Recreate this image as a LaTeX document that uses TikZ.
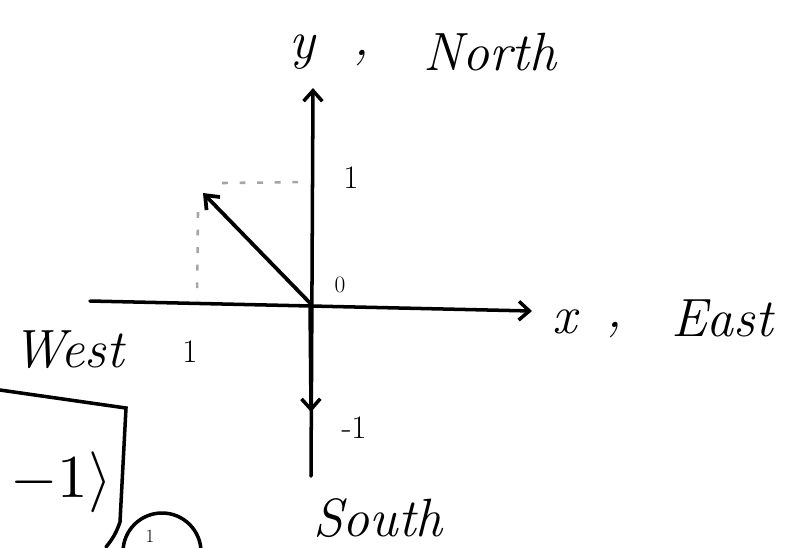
\documentclass[tikz,border=0pt]{standalone}
\usepackage{graphicx}
\usepackage{tikz}
\usetikzlibrary{positioning,arrows.meta}
\tikzset{
  axis/.style     = {draw=black, line width=3pt, line cap=round},
  axisarrow/.style= {axis, -{Straight Barb[length=9pt,width=16pt]}},
  vec/.style      = {draw=black, line width=3.2pt, line cap=round,
                     -{Straight Barb[length=10pt,width=16pt]}},
  guide/.style    = {draw=gray!70, line width=2.2pt, dash pattern=on 5pt off 10pt},
  ink/.style      = {draw=black, line width=3pt, line cap=round},
  hand/.style     = {inner sep=0pt, font=\fontsize{46}{46}\selectfont\itshape},
  tickno/.style   = {inner sep=0pt, font=\fontsize{28}{28}\selectfont},
}

\begin{document}
\begin{tikzpicture}[x=0.03cm, y=-0.03cm]
  \useasboundingbox (0,0) rectangle (793,547);
  \clip (0,0) rectangle (793,547);

  % axes
  \coordinate (O)    at (310,303);
  \coordinate (xbeg) at (90,301);
  \coordinate (xtip) at (532,311);
  \coordinate (ytip) at (313,88);
  \coordinate (ydn)  at (311,412);
  \coordinate (ybot) at (311,476);
  \draw[axisarrow] (xbeg) -- (xtip);
  \draw[axisarrow] (ybot) -- (ytip);
  \draw[axisarrow] (O) -- (ydn);

  % the vector and its guides
  \coordinate (v)  at (203,193);
  \coordinate (gh) at (222,183);
  \coordinate (gy) at (310,182);
  \coordinate (gv) at (198,212);
  \coordinate (gx) at (197,300);
  \draw[guide] (gh) -- (gy);
  \draw[guide] (gv) -- (gx);
  \draw[vec] (O) -- (v);

  % labels
  \node[hand] (ylab) at (302,52) {y};
  \node[hand] (ycomma) at (362,58) {,};
  \node[hand] (north) at (490,52) {North};
  \node[hand] (xlab) at (565,322) {x};
  \node[hand] (xcomma) at (615,330) {,};
  \node[hand] (east) at (722,318) {East};
  \node[hand] (west) at (68,350) {West};
  \node[hand] (south) at (378,518) {South};
  \node[tickno] (one) at (351,178) {1};
  \node[tickno, font=\fontsize{20}{20}\selectfont] (zero) at (340,285) {0};
  \node[tickno] (oneleft) at (190,352) {1};
  \node[tickno] (mone) at (354,428) {-1};

  % clipped ket and box at the lower left
  \node[inner sep=0pt, anchor=east] (ket)
       at (112,482) {\scalebox{5.2}{$-1\rangle$}};
  \coordinate (bx0) at (0,390);
  \coordinate (bx1) at (126,408);
  \coordinate (bx2) at (120,522);
  \coordinate (bx3) at (106,547);
  \draw[ink] (bx0) -- (bx1) -- (bx2) to[bend left=10] (bx3);
  \coordinate (cc) at (162,552);
  \draw[ink] (cc) circle[radius=39];
  \node[tickno, anchor=north, font=\fontsize{16}{16}\selectfont] (inner) at (150,530) {1};
\end{tikzpicture}
\end{document}
